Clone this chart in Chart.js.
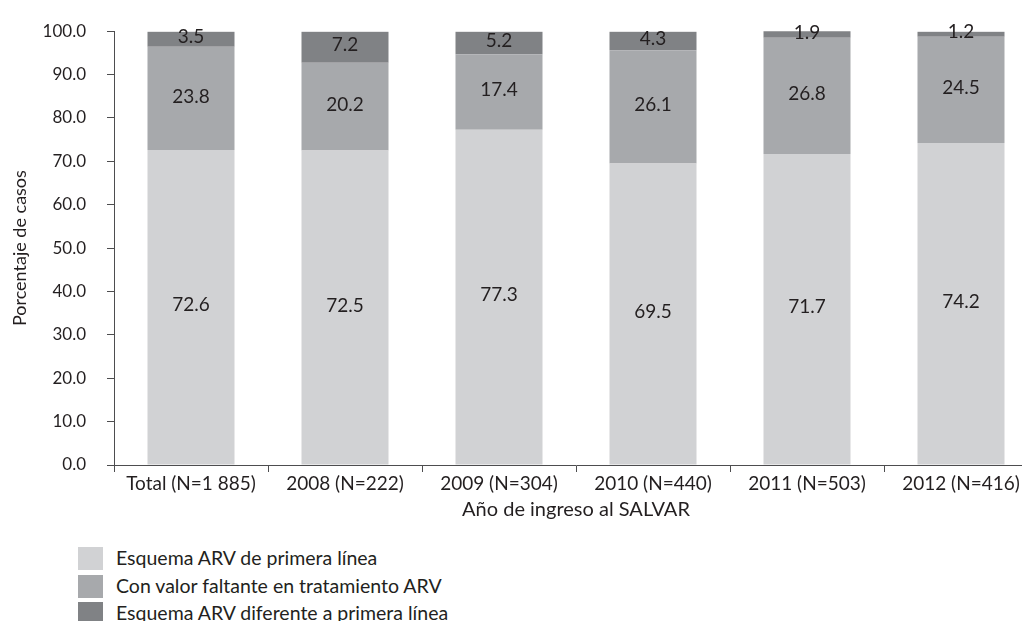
<!DOCTYPE html>
<html>
<head>
<meta charset="utf-8">
<script src="https://cdn.jsdelivr.net/npm/chart.js@4"></script>
<style>
  html, body { margin: 0; padding: 0; background: #fff; overflow: hidden; width: 1022px; height: 621px; }
  #wrap { position: relative; width: 1022px; height: 621px; overflow: hidden; }
  #chart { position: absolute; left: 0; top: 0; }
  #legend { position: absolute; left: 78px; top: 547px; font-family: Lato, sans-serif; font-size: 19.5px; color: #231f20; }
  #legend div { height: 27.5px; display: flex; align-items: flex-start; white-space: nowrap; }
  #legend span.box { display: inline-block; width: 25px; height: 23px; margin-right: 13px; flex: none; }
  #legend span.txt { line-height: 21px; }
</style>
</head>
<body>
<div id="wrap">
  <canvas id="chart" width="1038" height="530" style="width:1038px;height:530px"></canvas>
  <div id="legend"></div>
</div>
<script>
const categories = ['Total (N=1 885)', '2008 (N=222)', '2009 (N=304)', '2010 (N=440)', '2011 (N=503)', '2012 (N=416)'];
const primeraLinea = [72.6, 72.5, 77.3, 69.5, 71.7, 74.2];
const valorFaltante = [23.8, 20.2, 17.4, 26.1, 26.8, 24.5];
const diferente = [3.5, 7.2, 5.2, 4.3, 1.9, 1.2];
const seriesNames = ['Esquema ARV de primera línea', 'Con valor faltante en tratamiento ARV', 'Esquema ARV diferente a primera línea'];
const colors = ['#d1d2d4', '#a7a9ac', '#808285'];

const textColor = '#231f20';
const axisColor = '#4d4d4f';

// etiquetas dentro de cada segmento
const segmentLabels = {
  id: 'segmentLabels',
  afterDatasetsDraw(chart) {
    const ctx = chart.ctx;
    ctx.save();
    ctx.font = '19px Lato, sans-serif';
    ctx.fillStyle = textColor;
    ctx.textAlign = 'center';
    ctx.textBaseline = 'middle';
    chart.data.datasets.forEach((ds, i) => {
      chart.getDatasetMeta(i).data.forEach((bar, j) => {
        const top = Math.max(bar.y, chart.chartArea.top);
        const y = (top + bar.base) / 2 - 2;
        ctx.fillText(ds.data[j].toFixed(1), bar.x, y);
      });
    });
    ctx.restore();
  }
};

new Chart(document.getElementById('chart').getContext('2d'), {
  type: 'bar',
  data: {
    labels: categories,
    datasets: [primeraLinea, valorFaltante, diferente].map((d, i) => ({
      label: seriesNames[i],
      data: d,
      backgroundColor: colors[i],
      borderWidth: 0,
      barPercentage: 0.565,
      categoryPercentage: 1
    }))
  },
  options: {
    responsive: false,
    animation: false,
    layout: { padding: { top: 27, right: 0, left: 0, bottom: 0 } },
    plugins: { legend: { display: false }, tooltip: { enabled: false } },
    scales: {
      x: {
        stacked: true,
        grid: { drawOnChartArea: false, drawTicks: true, tickLength: 7, color: axisColor },
        border: { display: true, color: axisColor, width: 1 },
        ticks: { color: textColor, font: { family: 'Lato', size: 19 }, padding: 0, maxRotation: 0, autoSkip: false },
        title: { display: true, text: 'Año de ingreso al SALVAR', color: textColor, font: { family: 'Lato', size: 20 }, padding: { top: 2, bottom: 8 } },
        afterFit(scale) { scale.height = 65; }
      },
      y: {
        stacked: true,
        min: 0,
        max: 100,
        grid: { drawOnChartArea: false, drawTicks: true, tickLength: 7, color: axisColor },
        border: { display: true, color: axisColor, width: 1 },
        ticks: { stepSize: 10, color: textColor, font: { family: 'Lato', size: 17 }, padding: 21, callback: v => v.toFixed(1) },
        title: { display: true, text: 'Porcentaje de casos', color: textColor, font: { family: 'Lato', size: 18 }, padding: { top: 9, bottom: 0 } },
        afterFit(scale) { scale.width = 114; }
      }
    }
  },
  plugins: [segmentLabels]
});

const legend = document.getElementById('legend');
seriesNames.forEach((name, i) => {
  const row = document.createElement('div');
  row.innerHTML = '<span class="box" style="background:' + colors[i] + '"></span><span class="txt">' + name + '</span>';
  legend.appendChild(row);
});
</script>
</body>
</html>
